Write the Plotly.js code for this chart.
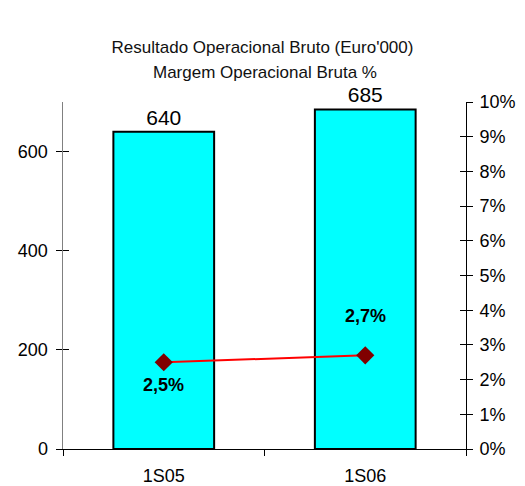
<!DOCTYPE html>
<html>
<head>
<meta charset="utf-8">
<script src="https://cdn.plot.ly/plotly-3.0.1.min.js"></script>
<style>html,body{margin:0;padding:0;background:#fff;}#chart{width:525px;height:486px;}</style>
</head>
<body>
<div id="chart"></div>
<script>
const categories = ['1S05', '1S06'];
const resultado = [640, 685];
const margem = [0.025, 0.027];
const margemLabels = ['2,5%', '2,7%'];
const labelShift = [-23, 39];
const titleLines = ["Resultado Operacional Bruto (Euro'000)", "Margem Operacional Bruta %"];

const FONT = 'Liberation Sans, Arial, sans-serif';

const traces = [
  {
    type: 'bar', x: categories, y: resultado, text: resultado.map(String),
    textposition: 'outside', textfont: {size: 21, color: '#000', family: FONT},
    cliponaxis: false,
    marker: {color: '#00FFFF', line: {color: '#000', width: 2}},
    width: 0.5, hoverinfo: 'skip', showlegend: false
  },
  {
    type: 'scatter', mode: 'lines+markers', x: categories, y: margem, yaxis: 'y2',
    line: {color: '#FF0000', width: 2},
    marker: {symbol: 'diamond', size: 14, color: '#800000'},
    showlegend: false, hoverinfo: 'skip'
  }
];

const annotations = categories.map((c, i) => ({
  x: c, y: margem[i], xref: 'x', yref: 'y2', text: '<b>' + margemLabels[i] + '</b>',
  showarrow: false, yshift: labelShift[i], font: {size: 18, color: '#000', family: FONT}
}));
annotations.push({
  text: titleLines[1], xref: 'paper', yref: 'paper', x: 0.5, y: 1, yshift: 30,
  yanchor: 'middle', showarrow: false, font: {size: 17, color: '#111', family: FONT}
});

const layout = {
  width: 525, height: 486,
  margin: {l: 63, r: 59, t: 102, b: 37},
  paper_bgcolor: '#fff', plot_bgcolor: '#fff',
  font: {family: FONT, size: 18, color: '#000'},
  title: {
    text: titleLines[0],
    x: 0.5, xanchor: 'center', y: 1 - 47/486, yanchor: 'middle', yref: 'container',
    font: {size: 17, color: '#111', family: FONT}
  },
  xaxis: {
    type: 'category', showline: true, linecolor: '#000', linewidth: 1,
    ticks: 'outside', ticklen: 6, tickcolor: '#000', tickson: 'boundaries',
    showgrid: false, zeroline: false, tickfont: {size: 18}, ticklabelstandoff: 10
  },
  yaxis: {
    range: [0, 700], dtick: 200, showline: true, linecolor: '#808080', linewidth: 1.5,
    ticks: 'outside', ticklen: 6, tickcolor: '#000', showgrid: false, zeroline: false,
    tickfont: {size: 18}, ticklabelstandoff: 4
  },
  yaxis3: {
    range: [0, 700], dtick: 200, overlaying: 'y', side: 'left', showline: false,
    ticks: 'inside', ticklen: 6, tickcolor: '#000', showgrid: false, zeroline: false,
    showticklabels: false
  },
  yaxis2: {
    range: [0, 0.1], dtick: 0.01, tickformat: '.0%', overlaying: 'y', side: 'right',
    showline: true, linecolor: '#000', linewidth: 1,
    ticks: 'outside', ticklen: 6, tickcolor: '#000', showgrid: false, zeroline: false,
    tickfont: {size: 18}, ticklabelstandoff: 3
  },
  yaxis4: {
    range: [0, 0.1], dtick: 0.01, overlaying: 'y', side: 'right', showline: false,
    ticks: 'inside', ticklen: 6, tickcolor: '#000', showgrid: false, zeroline: false,
    showticklabels: false
  },
  annotations: annotations
};

traces.push({type: 'scatter', x: categories, y: resultado, yaxis: 'y3', mode: 'none', showlegend: false, hoverinfo: 'skip'});
traces.push({type: 'scatter', x: categories, y: margem, yaxis: 'y4', mode: 'none', showlegend: false, hoverinfo: 'skip'});

Plotly.newPlot('chart', traces, layout, {displayModeBar: false, staticPlot: true});
</script>
</body>
</html>
